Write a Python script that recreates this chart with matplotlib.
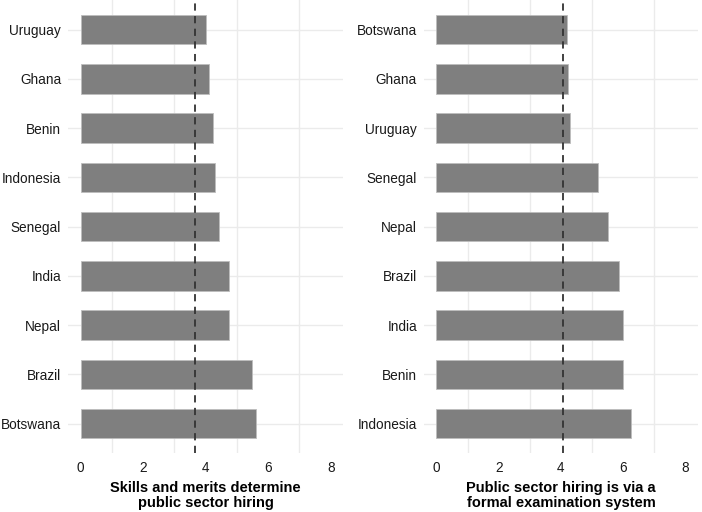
import matplotlib
matplotlib.use("Agg")
import matplotlib.pyplot as plt

plt.rcParams["font.family"] = ["Liberation Sans", "DejaVu Sans"]

# --- data (top of chart first) ---
left_countries = ["Uruguay", "Ghana", "Benin", "Indonesia", "Senegal",
                  "India", "Nepal", "Brazil", "Botswana"]
left_values = [4.01, 4.12, 4.22, 4.31, 4.42, 4.73, 4.76, 5.48, 5.61]
left_mean = 3.65
left_title = "Skills and merits determine\npublic sector hiring"

right_countries = ["Botswana", "Ghana", "Uruguay", "Senegal", "Nepal",
                   "Brazil", "India", "Benin", "Indonesia"]
right_values = [4.20, 4.22, 4.28, 5.19, 5.50, 5.87, 6.00, 6.00, 6.24]
right_mean = 4.06
right_title = "Public sector hiring is via a\nformal examination system"

x_ticks = [0, 2, 4, 6, 8]
grid_x = [1, 3, 5, 7]

fig = plt.figure(figsize=(7.02, 5.12), dpi=100)
ax_l = fig.add_axes([0.097, 0.115, 0.392, 0.885])
ax_r = fig.add_axes([0.604, 0.115, 0.390, 0.885])


def draw_panel(ax, countries, values, mean, title):
    ypos = list(range(len(countries)))
    for g in grid_x:
        ax.axvline(g, color="#ebebeb", linewidth=1.0, zorder=0)
    for y in ypos:
        ax.axhline(y, color="#ebebeb", linewidth=1.0, zorder=0)
    ax.barh(ypos, values, height=0.6, color="#7f7f7f",
            edgecolor="#bdbdbd", linewidth=0.6, zorder=2)
    ax.axvline(mean, color="#333333", linestyle=(0, (4, 3)),
               linewidth=1.3, zorder=3)
    ax.set_xlim(-0.4, 8.4)
    ax.set_ylim(len(countries) - 0.4, -0.6)
    ax.set_yticks(ypos)
    ax.set_yticklabels(countries, fontsize=9.8, color="#1a1a1a")
    ax.set_xticks(x_ticks)
    ax.set_xticklabels([str(t) for t in x_ticks], fontsize=9.8, color="#1a1a1a")
    ax.tick_params(length=0, pad=6)
    ax.tick_params(axis="y", pad=5)
    for s in ax.spines.values():
        s.set_visible(False)
    ax.set_xlabel(title, fontsize=10.5, fontweight="bold", labelpad=4,
                  linespacing=1.1)
    ax.set_facecolor("white")


draw_panel(ax_l, left_countries, left_values, left_mean, left_title)
draw_panel(ax_r, right_countries, right_values, right_mean, right_title)

fig.savefig("out.png", dpi=100, facecolor="white")
